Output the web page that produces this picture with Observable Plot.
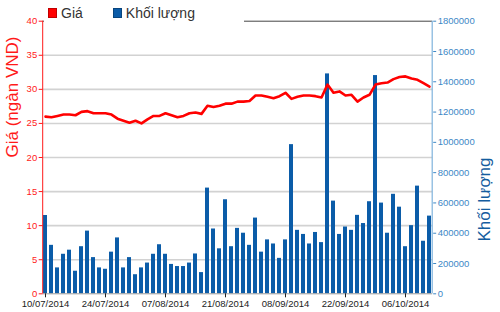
<!DOCTYPE html>
<html>
<head>
<meta charset="utf-8">
<script src="https://cdn.jsdelivr.net/npm/d3@7"></script>
<script src="https://cdn.jsdelivr.net/npm/@observablehq/plot@0.6"></script>
<style>
  html, body { margin: 0; padding: 0; background: #fff; }
  #wrap { position: relative; width: 500px; height: 312px; overflow: hidden; }
  #legend { position: absolute; left: 44px; top: 3px; width: 196px; height: 19px; padding-left: 4px; background: #fff;
            font: 14px "Liberation Sans", Arial, sans-serif; color: #333; display: flex; align-items: center; }
  #legend .sw { display: inline-block; width: 9px; height: 10px; margin-right: 4px; box-sizing: border-box; }
  #legend .item { display: flex; align-items: center; margin-right: 30px; }
</style>
</head>
<body>
<div id="wrap">
  <div id="chart"></div>
  <div id="legend"></div>
</div>
<script>
// Trading days (categories)
const dates = [
  "10/07/2014","11/07/2014","14/07/2014","15/07/2014","16/07/2014","17/07/2014","18/07/2014",
  "21/07/2014","22/07/2014","23/07/2014","24/07/2014","25/07/2014","28/07/2014","29/07/2014",
  "30/07/2014","31/07/2014","01/08/2014","04/08/2014","05/08/2014","06/08/2014","07/08/2014",
  "08/08/2014","11/08/2014","12/08/2014","13/08/2014","14/08/2014","15/08/2014","18/08/2014",
  "19/08/2014","20/08/2014","21/08/2014","22/08/2014","25/08/2014","26/08/2014","27/08/2014",
  "28/08/2014","29/08/2014","03/09/2014","04/09/2014","05/09/2014","08/09/2014","09/09/2014",
  "10/09/2014","11/09/2014","12/09/2014","15/09/2014","16/09/2014","17/09/2014","18/09/2014",
  "19/09/2014","22/09/2014","23/09/2014","24/09/2014","25/09/2014","26/09/2014","29/09/2014",
  "30/09/2014","01/10/2014","02/10/2014","03/10/2014","06/10/2014","07/10/2014","08/10/2014",
  "09/10/2014","10/10/2014"
];
// Giá (ngàn VND)
const price = [
  26.0,25.9,26.1,26.3,26.3,26.2,26.7,26.8,26.5,26.5,26.5,26.3,25.7,25.4,25.1,25.4,25.0,25.6,26.1,26.1,
  26.5,26.2,25.9,26.1,26.5,26.6,26.4,27.6,27.4,27.6,27.9,27.9,28.2,28.2,28.3,29.1,29.1,28.9,28.7,29.0,
  29.5,28.6,28.9,29.1,29.1,29.0,28.8,30.7,29.5,29.7,29.1,29.2,28.2,28.8,29.2,30.7,30.9,31.0,31.5,31.8,
  31.9,31.6,31.4,30.9,30.4
];
// Khối lượng
const volume = [
  517000,320000,171000,261000,288000,149000,311000,414000,239000,171000,162000,275000,369000,171000,
  239000,126000,171000,203000,261000,324000,261000,194000,180000,180000,203000,263000,140000,698000,
  428000,297000,621000,311000,432000,400000,320000,500000,275000,356000,329000,234000,356000,985000,
  419000,392000,329000,405000,338000,1452000,612000,392000,441000,419000,518000,464000,608000,1441000,
  599000,400000,657000,572000,311000,450000,711000,347000,513000
];
const priceTicks = [0,5,10,15,20,25,30,35,40];
const volumeTicks = [0,200000,400000,600000,800000,1000000,1200000,1400000,1600000,1800000];
const xTickLabels = ["10/07/2014","24/07/2014","07/08/2014","21/08/2014","08/09/2014","22/09/2014","06/10/2014"];
const seriesNames = ["Giá","Khối lượng"];
const seriesColors = ["#ff0000","#0b5ca8"];
const axisTitles = ["Giá (ngàn VND)","Khối lượng"];

const priceMax = d3.max(priceTicks);
const volumeMax = d3.max(volumeTicks);
const k = volumeMax / priceMax;
const rows = dates.map((d, i) => ({date: d, price: price[i], volume: volume[i]}));

const chart = Plot.plot({
  width: 500,
  height: 312,
  marginTop: 20.7,
  marginBottom: 18.7,
  marginLeft: 42.7,
  marginRight: 67.8,
  style: {fontFamily: "'Liberation Sans', Arial, sans-serif", fontSize: "9.5px", background: "white", overflow: "visible"},
  x: {type: "band", domain: dates, paddingInner: 0.33, paddingOuter: 0, axis: null},
  y: {domain: [0, priceMax], axis: null},
  marks: [
    Plot.ruleY(priceTicks.filter(t => t > 0 && t < priceMax), {stroke: "#d2d2d2", strokeWidth: 1.6}),
    Plot.ruleY([priceMax], {stroke: "#444", strokeWidth: 1}),
    Plot.barY(rows, {x: "date", y: d => d.volume / k, fill: seriesColors[1]}),
    Plot.lineY(rows, {x: "date", y: "price", stroke: seriesColors[0], strokeWidth: 2.6, curve: "linear"}),
    Plot.ruleY([0], {stroke: "#9a9a9a", strokeWidth: 1}),
    Plot.axisY(priceTicks, {anchor: "left", tickSize: 4, tickPadding: 2, color: "#ff1a1a", label: null, fontSize: 9.5}),
    Plot.axisY(volumeTicks.map(v => v / k), {anchor: "right", tickSize: 3, tickPadding: 2, color: "#3d88c6", label: null,
      tickFormat: d => String(Math.round(d * k)), fontSize: 9.5}),
    Plot.axisX(xTickLabels, {anchor: "bottom", tickSize: 4, tickPadding: 2, color: "#222", label: null, fontSize: 9.5}),
    Plot.text([axisTitles[0]], {frameAnchor: "left", dx: -31, rotate: -90, fontSize: 17, fill: "#ff1a1a"}),
    Plot.text([axisTitles[1]], {frameAnchor: "right", dx: 52, rotate: -90, fontSize: 17, fill: "#145c9e"})
  ]
});
document.getElementById("chart").appendChild(chart);

// Vertical axis lines at the frame edges, from the plot's own scales
const xr = chart.scale("x").range;
const yr = chart.scale("y").range;
const svg = d3.select(chart);
svg.append("line").attr("x1", xr[0]).attr("x2", xr[0]).attr("y1", yr[0]).attr("y2", yr[1])
  .attr("stroke", "#ff1a1a").attr("stroke-width", 1);
svg.append("line").attr("x1", xr[1]).attr("x2", xr[1]).attr("y1", yr[0]).attr("y2", yr[1])
  .attr("stroke", "#7fb3dc").attr("stroke-width", 1.2);

// Legend
const legend = d3.select("#legend");
seriesNames.forEach((n, i) => {
  const it = legend.append("div").attr("class", "item");
  it.append("span").attr("class", "sw").style("background", seriesColors[i])
    .style("border", "1px solid " + d3.color(seriesColors[i]).darker(0.8));
  it.append("span").text(n);
});
</script>
</body>
</html>
